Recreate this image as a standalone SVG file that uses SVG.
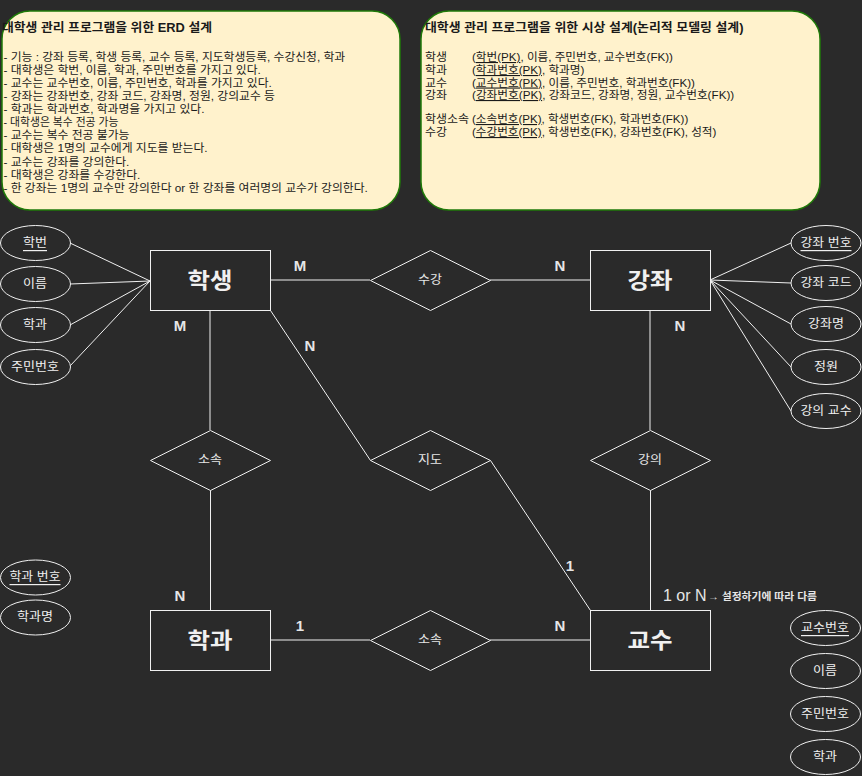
<svg xmlns="http://www.w3.org/2000/svg" width="862" height="776" viewBox="0 0 862 776">
<style>
text{font-family:"Liberation Sans","Noto Sans CJK KR",sans-serif}
.note{fill:#fff2cc;stroke:#1f7a08;stroke-width:1.5}
.nt{font-size:11px;fill:#1a1a1a}
.nh{font-size:12px;font-weight:bold;fill:#1a1a1a}
.ent{fill:#2a2a2a;stroke:#f0f0f0;stroke-width:1}
.et{font-size:22px;font-weight:bold;fill:#f0f0f0;text-anchor:middle;dominant-baseline:central}
.rel{fill:#2a2a2a;stroke:#f0f0f0;stroke-width:1}
.rt{font-size:12px;fill:#e6e6e6;text-anchor:middle;dominant-baseline:central}
.att{fill:#2a2a2a;stroke:#f0f0f0;stroke-width:1}
.at{font-size:12px;fill:#f0f0f0;text-anchor:middle;dominant-baseline:central}
.u{text-decoration:underline}
.edge{stroke:#f0f0f0;stroke-width:1;fill:none}
.card{font-size:15px;font-weight:bold;fill:#e6e6e6;text-anchor:middle;dominant-baseline:central}
</style>
<rect x="0" y="0" width="862" height="776" fill="#2a2a2a"/>

<g id="note-erd">
<rect class="note" x="2" y="11" width="398" height="199" rx="28" ry="28"/>
<text class="nh" x="2" y="32" textLength="210" lengthAdjust="spacingAndGlyphs">대학생 관리 프로그램을 위한 ERD 설계</text>
<text class="nt" x="3.5" y="61" textLength="341.7" lengthAdjust="spacingAndGlyphs">- 기능 : 강좌 등록, 학생 등록, 교수 등록, 지도학생등록, 수강신청, 학과</text>
<text class="nt" x="3.5" y="74" textLength="257.3" lengthAdjust="spacingAndGlyphs">- 대학생은 학번, 이름, 학과, 주민번호를 가지고 있다.</text>
<text class="nt" x="3.5" y="87" textLength="268.3" lengthAdjust="spacingAndGlyphs">- 교수는 교수번호, 이름, 주민번호, 학과를 가지고 있다.</text>
<text class="nt" x="3.5" y="100" textLength="271.4" lengthAdjust="spacingAndGlyphs">- 강좌는 강좌번호, 강좌 코드, 강좌명, 정원, 강의교수 등</text>
<text class="nt" x="3.5" y="113" textLength="201" lengthAdjust="spacingAndGlyphs">- 학과는 학과번호, 학과명을 가지고 있다.</text>
<text class="nt" x="3.5" y="126" textLength="114.9" lengthAdjust="spacingAndGlyphs">- 대학생은 복수 전공 가능</text>
<text class="nt" x="3.5" y="139" textLength="125.9" lengthAdjust="spacingAndGlyphs">- 교수는 복수 전공 불가능</text>
<text class="nt" x="3.5" y="152" textLength="204.1" lengthAdjust="spacingAndGlyphs">- 대학생은 1명의 교수에게 지도를 받는다.</text>
<text class="nt" x="3.5" y="166" textLength="125.9" lengthAdjust="spacingAndGlyphs">- 교수는 강좌를 강의한다.</text>
<text class="nt" x="3.5" y="179" textLength="136.9" lengthAdjust="spacingAndGlyphs">- 대학생은 강좌를 수강한다.</text>
<text class="nt" x="3.5" y="192" textLength="364.3" lengthAdjust="spacingAndGlyphs">- 한 강좌는 1명의 교수만 강의한다 or 한 강좌를 여러명의 교수가 강의한다.</text>
</g>

<g id="note-logical">
<rect class="note" x="421" y="11" width="399" height="199" rx="28" ry="28"/>
<text class="nh" x="425" y="32" textLength="318.5" lengthAdjust="spacingAndGlyphs">대학생 관리 프로그램을 위한 시상 설계(논리적 모델링 설계)</text>
<text class="nt" x="425" y="61" textLength="22" lengthAdjust="spacingAndGlyphs">학생</text>
<text class="nt" x="472" y="61" textLength="201" lengthAdjust="spacingAndGlyphs">(<tspan class="u">학번(PK)</tspan>, 이름, 주민번호, 교수번호(FK))</text>
<text class="nt" x="425" y="74" textLength="22" lengthAdjust="spacingAndGlyphs">학과</text>
<text class="nt" x="472" y="74" textLength="112.4" lengthAdjust="spacingAndGlyphs">(<tspan class="u">학과번호(PK)</tspan>, 학과명)</text>
<text class="nt" x="425" y="86.5" textLength="22" lengthAdjust="spacingAndGlyphs">교수</text>
<text class="nt" x="472" y="86.5" textLength="223" lengthAdjust="spacingAndGlyphs">(<tspan class="u">교수번호(PK)</tspan>, 이름, 주민번호, 학과번호(FK))</text>
<text class="nt" x="425" y="99" textLength="22" lengthAdjust="spacingAndGlyphs">강좌</text>
<text class="nt" x="472" y="99" textLength="262.2" lengthAdjust="spacingAndGlyphs">(<tspan class="u">강좌번호(PK)</tspan>, 강좌코드, 강좌명, 정원, 교수번호(FK))</text>
<text class="nt" x="425" y="123" textLength="44" lengthAdjust="spacingAndGlyphs">학생소속</text>
<text class="nt" x="472" y="123" textLength="216.3" lengthAdjust="spacingAndGlyphs">(<tspan class="u">소속번호(PK)</tspan>, 학생번호(FK), 학과번호(FK))</text>
<text class="nt" x="425" y="136" textLength="22" lengthAdjust="spacingAndGlyphs">수강</text>
<text class="nt" x="472" y="136" textLength="244.4" lengthAdjust="spacingAndGlyphs">(<tspan class="u">수강번호(PK)</tspan>, 학생번호(FK), 강좌번호(FK), 성적)</text>
</g>

<g id="connectors">
<line class="edge" x1="270" y1="280" x2="370" y2="280"/>
<line class="edge" x1="490" y1="280" x2="590" y2="280"/>
<line class="edge" x1="210" y1="310" x2="210" y2="430"/>
<line class="edge" x1="210.5" y1="490" x2="210.5" y2="610"/>
<line class="edge" x1="270" y1="640" x2="370" y2="640"/>
<line class="edge" x1="490" y1="640" x2="590" y2="640"/>
<line class="edge" x1="650" y1="310" x2="650" y2="430"/>
<line class="edge" x1="650.5" y1="490" x2="650.5" y2="610"/>
<line class="edge" x1="270.5" y1="310.5" x2="370.5" y2="460.5"/>
<line class="edge" x1="490.5" y1="460.5" x2="590.5" y2="610.5"/>
<line class="edge" x1="70" y1="243" x2="150" y2="281"/>
<line class="edge" x1="70" y1="284" x2="150" y2="281"/>
<line class="edge" x1="70" y1="325" x2="150" y2="281"/>
<line class="edge" x1="70" y1="366" x2="150" y2="281"/>
<line class="edge" x1="710" y1="280" x2="791" y2="243"/>
<line class="edge" x1="710" y1="280" x2="791" y2="283"/>
<line class="edge" x1="710" y1="280" x2="791" y2="324"/>
<line class="edge" x1="710" y1="280" x2="791" y2="367"/>
<line class="edge" x1="710" y1="280" x2="791" y2="411"/>
</g>

<g id="cardinalities">
<text class="card" x="300" y="265">M</text>
<text class="card" x="560" y="265">N</text>
<text class="card" x="180" y="325">M</text>
<text class="card" x="310" y="345">N</text>
<text class="card" x="680" y="325">N</text>
<text class="card" x="180" y="595">N</text>
<text class="card" x="300" y="625" font-weight="normal">1</text>
<text class="card" x="560" y="625">N</text>
<text class="card" x="570" y="565" font-weight="normal">1</text>
<text x="663" y="601" font-size="16" fill="#e6e6e6">1 or N</text>
<text x="708" y="600" font-size="10" font-weight="bold" fill="#e6e6e6" textLength="109" lengthAdjust="spacingAndGlyphs">→ 설정하기에 따라 다름</text>
</g>

<g id="student">
<rect class="ent" x="150.5" y="250.5" width="120" height="60"/>
<text class="et" x="210" y="280" textLength="45" lengthAdjust="spacingAndGlyphs">학생</text>
</g>
<g id="course">
<rect class="ent" x="590.5" y="250.5" width="120" height="60"/>
<text class="et" x="650" y="280" textLength="45" lengthAdjust="spacingAndGlyphs">강좌</text>
</g>
<g id="department">
<rect class="ent" x="150.5" y="610.5" width="120" height="60"/>
<text class="et" x="210" y="640" textLength="45" lengthAdjust="spacingAndGlyphs">학과</text>
</g>
<g id="professor">
<rect class="ent" x="590.5" y="610.5" width="120" height="60"/>
<text class="et" x="650" y="640" textLength="45" lengthAdjust="spacingAndGlyphs">교수</text>
</g>

<g id="rel-enroll">
<polygon class="rel" points="370.5,280.5 430.5,250.5 490.5,280.5 430.5,310.5"/>
<text class="rt" x="430" y="280" textLength="24" lengthAdjust="spacingAndGlyphs">수강</text>
</g>
<g id="rel-advise">
<polygon class="rel" points="370.5,460.5 430.5,430.5 490.5,460.5 430.5,490.5"/>
<text class="rt" x="430" y="460" textLength="24" lengthAdjust="spacingAndGlyphs">지도</text>
</g>
<g id="rel-belong-student">
<polygon class="rel" points="150.5,460.5 210.5,430.5 270.5,460.5 210.5,490.5"/>
<text class="rt" x="210" y="460" textLength="24" lengthAdjust="spacingAndGlyphs">소속</text>
</g>
<g id="rel-belong-prof">
<polygon class="rel" points="370.5,640.5 430.5,610.5 490.5,640.5 430.5,670.5"/>
<text class="rt" x="430" y="640" textLength="24" lengthAdjust="spacingAndGlyphs">소속</text>
</g>
<g id="rel-teach">
<polygon class="rel" points="590.5,460.5 650.5,430.5 710.5,460.5 650.5,490.5"/>
<text class="rt" x="650" y="460" textLength="24" lengthAdjust="spacingAndGlyphs">강의</text>
</g>

<g id="attr-student-id"><ellipse class="att" cx="35.5" cy="243" rx="35" ry="17.5"/><text class="at u" x="35" y="243" textLength="24" lengthAdjust="spacingAndGlyphs">학번</text></g>
<g id="attr-student-name"><ellipse class="att" cx="35.5" cy="284" rx="35" ry="17.5"/><text class="at" x="35" y="284" textLength="24" lengthAdjust="spacingAndGlyphs">이름</text></g>
<g id="attr-student-dept"><ellipse class="att" cx="35.5" cy="325" rx="35" ry="17.5"/><text class="at" x="35" y="325" textLength="24" lengthAdjust="spacingAndGlyphs">학과</text></g>
<g id="attr-student-rrn"><ellipse class="att" cx="35.5" cy="367" rx="35" ry="17.5"/><text class="at" x="35" y="367" textLength="48" lengthAdjust="spacingAndGlyphs">주민번호</text></g>

<g id="attr-course-id"><ellipse class="att" cx="826" cy="243" rx="35" ry="17.5"/><text class="at u" x="826" y="243" textLength="51" lengthAdjust="spacingAndGlyphs">강좌 번호</text></g>
<g id="attr-course-code"><ellipse class="att" cx="826" cy="283" rx="35" ry="17.5"/><text class="at" x="826" y="283" textLength="51" lengthAdjust="spacingAndGlyphs">강좌 코드</text></g>
<g id="attr-course-name"><ellipse class="att" cx="826" cy="324" rx="35" ry="17.5"/><text class="at" x="826" y="324" textLength="36" lengthAdjust="spacingAndGlyphs">강좌명</text></g>
<g id="attr-course-cap"><ellipse class="att" cx="826" cy="367" rx="35" ry="17.5"/><text class="at" x="826" y="367" textLength="24" lengthAdjust="spacingAndGlyphs">정원</text></g>
<g id="attr-course-prof"><ellipse class="att" cx="826" cy="411" rx="35" ry="17.5"/><text class="at" x="826" y="411" textLength="51" lengthAdjust="spacingAndGlyphs">강의 교수</text></g>

<g id="attr-dept-id"><ellipse class="att" cx="35.5" cy="577.5" rx="35" ry="17.5"/><text class="at u" x="35" y="577" textLength="51" lengthAdjust="spacingAndGlyphs">학과 번호</text></g>
<g id="attr-dept-name"><ellipse class="att" cx="35.5" cy="617.5" rx="35" ry="17.5"/><text class="at" x="35" y="617" textLength="36" lengthAdjust="spacingAndGlyphs">학과명</text></g>

<g id="attr-prof-id"><ellipse class="att" cx="825.5" cy="628" rx="35" ry="17.5"/><text class="at u" x="825" y="628" textLength="48" lengthAdjust="spacingAndGlyphs">교수번호</text></g>
<g id="attr-prof-name"><ellipse class="att" cx="825.5" cy="671" rx="35" ry="17.5"/><text class="at" x="825" y="671" textLength="24" lengthAdjust="spacingAndGlyphs">이름</text></g>
<g id="attr-prof-rrn"><ellipse class="att" cx="825.5" cy="714" rx="35" ry="17.5"/><text class="at" x="825" y="714" textLength="48" lengthAdjust="spacingAndGlyphs">주민번호</text></g>
<g id="attr-prof-dept"><ellipse class="att" cx="825.5" cy="757" rx="35" ry="17.5"/><text class="at" x="825" y="757" textLength="24" lengthAdjust="spacingAndGlyphs">학과</text></g>
</svg>
